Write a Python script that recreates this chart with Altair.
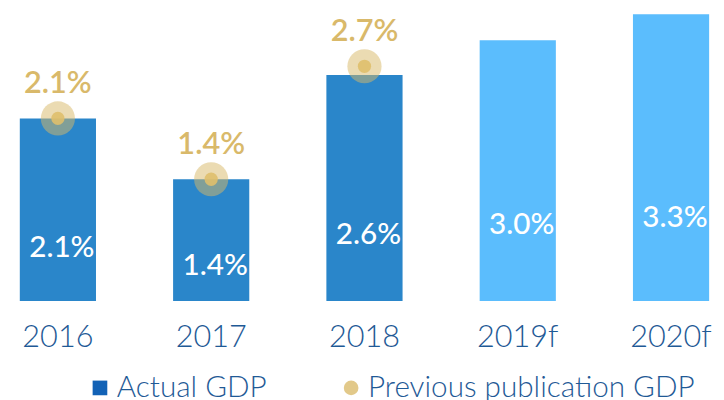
import altair as alt
import pandas as pd

# ---- data ----
years = ["2016", "2017", "2018", "2019f", "2020f"]
actual_gdp = [2.1, 1.4, 2.6, 3.0, 3.3]
previous_gdp = [2.1, 1.4, 2.7, None, None]
period_kind = ["actual", "actual", "actual", "forecast", "forecast"]
legend_items = ["Actual GDP", "Previous publication GDP"]

df = pd.DataFrame({"year": years, "gdp": actual_gdp, "prev": previous_gdp, "kind": period_kind})
prev_df = df.dropna(subset=["prev"]).reset_index(drop=True)
legend_df = pd.DataFrame({"series": legend_items})

FONT = "Lato"
AXIS_BLUE = "#1f5a96"
GOLD_TEXT = "#d9b96a"

xscale = alt.Scale(domain=years, range=[0, 721], paddingInner=0.503, paddingOuter=0.077)
yscale = alt.Scale(domain=[0, 3.3], range=[294, 4], nice=False, zero=True)

x_axis = alt.Axis(orient="bottom", offset=-98, domain=False, ticks=False, grid=False,
                  labelAngle=0, labelFontSize=31, labelFont=FONT, labelFontWeight=300,
                  labelColor=AXIS_BLUE, labelPadding=22)
x = alt.X("year:N", sort=years, title=None, scale=xscale, axis=x_axis)

base = alt.Chart(df)

bars = base.mark_bar().encode(
    x=x,
    y=alt.Y("gdp:Q", scale=yscale, axis=None),
    color=alt.condition("datum.kind == 'actual'", alt.value("#2a86ca"), alt.value("#5bbdfd")),
)

bar_labels = base.transform_calculate(
    lab="format(datum.gdp, '.1f') + '%'",
    pos="datum.gdp * 0.29",
).mark_text(color="white", fontSize=30, font=FONT, fontWeight=500, baseline="middle", dx=4).encode(
    x=x,
    y=alt.Y("pos:Q", scale=yscale, axis=None),
    text="lab:N",
)

prev_base = alt.Chart(prev_df)

halo = prev_base.mark_circle(size=1195, color="#d8b765", opacity=0.5).encode(
    x=x,
    y=alt.Y("prev:Q", scale=yscale, axis=None),
)

dot = prev_base.mark_circle(size=180, color="#dfbf6c", opacity=0.9).encode(
    x=x,
    y=alt.Y("prev:Q", scale=yscale, axis=None),
)

prev_labels = prev_base.transform_calculate(
    lab="format(datum.prev, '.1f') + '%'"
).mark_text(color=GOLD_TEXT, fontSize=31, font=FONT, fontWeight=600, baseline="middle", dy=-35).encode(
    x=x,
    y=alt.Y("prev:Q", scale=yscale, axis=None),
    text="lab:N",
)

legend_def = dict(
    orient="none", legendX=78, legendY=367, direction="horizontal", title=None,
    labelFontSize=30, labelFont=FONT, labelFontWeight=300, labelColor=AXIS_BLUE,
    symbolSize=220, symbolOpacity=1, symbolStrokeWidth=0, labelOffset=2,
    columnPadding=70, padding=0, labelLimit=500,
)

legend_layer = alt.Chart(legend_df).mark_point(filled=True, opacity=0).encode(
    color=alt.Color("series:N", scale=alt.Scale(domain=legend_items, range=["#1262b6", "#e2c98a"]),
                    legend=alt.Legend(**legend_def)),
    shape=alt.Shape("series:N", scale=alt.Scale(domain=legend_items, range=["square", "circle"]),
                    legend=alt.Legend(**legend_def)),
)

chart = alt.layer(bars, bar_labels, halo, dot, prev_labels, legend_layer).properties(
    width=716, height=392, autosize=alt.AutoSizeParams(type="none"), padding=0
).configure_view(stroke=None)

chart.save("out.html", embed_options={"renderer": "svg", "actions": False})
